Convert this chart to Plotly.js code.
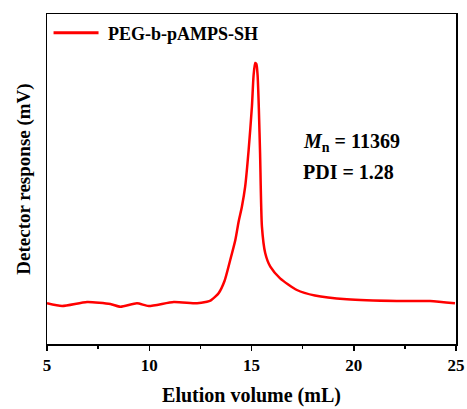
<!DOCTYPE html>
<html><head><meta charset="utf-8">
<script src="https://cdn.plot.ly/plotly-3.0.1.min.js"></script>
<style>html,body{margin:0;padding:0;background:#fff}</style>
</head><body><div id="chart" style="width:467px;height:409px"></div>
<script>
const elution = [5.0, 5.74, 6.96, 8.1, 8.59, 9.4, 9.97, 11.2, 12.34, 12.82, 12.99, 13.23, 13.39, 13.68, 13.96, 14.21, 14.37, 14.53, 14.69, 14.86, 15.02, 15.1, 15.18, 15.24, 15.3, 15.36, 15.42, 15.51, 15.67, 15.92, 16.4, 17.22, 18.1, 19.66, 22.1, 23.73, 24.95];
const response = [40.7, 38, 42, 40, 37.3, 40.7, 38, 42, 40.7, 42.3, 43.3, 47.3, 50.7, 63, 84, 104, 122.3, 137.3, 157.3, 194, 237.3, 268, 281, 280, 268, 235, 190, 117.3, 91, 77.3, 65.7, 54, 48.5, 44.7, 43, 43, 40.7];
const seriesName = 'PEG-b-pAMPS-SH';
const xTicks = [5, 10, 15, 20, 25];

const serif = 'Liberation Serif, Times New Roman, serif';
const red = '#ff0000';
Plotly.newPlot('chart', [{
  x: elution, y: response, type: 'scatter', mode: 'lines', name: seriesName,
  line: {color: red, width: 2.5, shape: 'spline', smoothing: 0.6}
}], {
  width: 467, height: 409,
  margin: {l: 47, r: 11, t: 14, b: 65},
  paper_bgcolor: '#fff', plot_bgcolor: '#fff',
  showlegend: false,
  xaxis: {range: [5, 25], tickvals: xTicks, ticktext: xTicks.map(String),
    showline: true, linecolor: '#000', linewidth: 1.5, mirror: true,
    ticks: 'outside', ticklen: 5, tickwidth: 1.5, tickcolor: '#000',
    minor: {dtick: 2.5, tick0: 5, ticks: 'outside', ticklen: 3, tickwidth: 1.5, tickcolor: '#000'},
    showgrid: false, zeroline: false,
    tickfont: {family: serif, size: 17, color: '#000', weight: 'bold'},
    title: {text: 'Elution volume (mL)', font: {family: serif, size: 20, color: '#000', weight: 'bold'}, standoff: 14}},
  yaxis: {range: [0, 330], showticklabels: false, ticks: '',
    showline: true, linecolor: '#000', linewidth: 1.5, mirror: true,
    showgrid: false, zeroline: false,
    title: {text: 'Detector response (mV)', font: {family: serif, size: 19, color: '#000', weight: 'bold'}, standoff: 10}},
  shapes: [
    {type: 'line', xref: 'paper', yref: 'paper', x0: 0.016, x1: 0.126, y0: 0.943, y1: 0.943,
     line: {color: red, width: 3}}
  ],
  annotations: [
    {xref: 'paper', yref: 'paper', x: 0.145, y: 0.94, xanchor: 'left', yanchor: 'middle', showarrow: false,
     text: seriesName, font: {family: serif, size: 18, color: '#000', weight: 'bold'}},
    {xref: 'paper', yref: 'paper', x: 0.62, y: 0.61, xanchor: 'left', yanchor: 'middle', showarrow: false,
     text: '<i>M</i><sub>n</sub> = 11369', font: {family: serif, size: 20, color: '#000', weight: 'bold'}},
    {xref: 'paper', yref: 'paper', x: 0.62, y: 0.522, xanchor: 'left', yanchor: 'middle', showarrow: false,
     text: 'PDI = 1.28', font: {family: serif, size: 20, color: '#000', weight: 'bold'}}
  ]
}, {displayModeBar: false, staticPlot: true});
</script></body></html>
